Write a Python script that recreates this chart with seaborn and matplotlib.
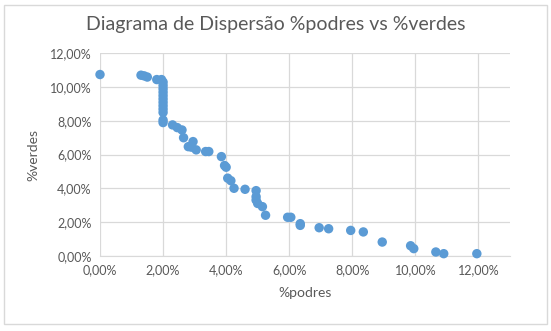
import numpy as np
import pandas as pd
import matplotlib.pyplot as plt
import matplotlib.ticker as mticker
import seaborn as sns

# valores em %
podres = [0.0, 1.3, 1.4, 1.5, 1.8, 1.95, 2.0, 2.0, 2.0, 2.0, 2.0, 2.0, 2.0,
          2.0, 2.0, 2.0, 2.0, 2.0, 2.3, 2.45, 2.6, 2.65, 2.8, 2.9, 2.95,
          3.05, 3.35, 3.45, 3.85, 3.95, 4.0, 4.05, 4.15, 4.25, 4.6, 4.95,
          4.95, 4.95, 5.0, 5.15, 5.25, 5.95, 6.05, 6.35, 6.35, 6.95, 7.25,
          7.95, 8.35, 8.95, 9.85, 9.95, 10.65, 10.9, 11.95]
verdes = [10.75, 10.71, 10.67, 10.6, 10.45, 10.45, 10.3, 10.1, 9.9, 9.7,
          9.5, 9.3, 9.1, 8.9, 8.7, 8.5, 8.05, 7.9, 7.76, 7.6, 7.46, 7.0,
          6.47, 6.44, 6.77, 6.28, 6.18, 6.18, 5.88, 5.35, 5.25, 4.6, 4.45,
          4.0, 3.94, 3.86, 3.5, 3.3, 3.1, 2.91, 2.4, 2.28, 2.28, 1.9, 1.8,
          1.66, 1.6, 1.5, 1.41, 0.81, 0.59, 0.42, 0.22, 0.12, 0.12]

df = pd.DataFrame({'podres': podres, 'verdes': verdes})

sns.set_style('whitegrid')
plt.rcParams['font.family'] = ['Lato', 'DejaVu Sans']

fig = plt.figure(figsize=(5.51, 3.31), dpi=100)
ax = fig.add_axes([0.1815, 0.2275, 0.744, 0.611])
sns.scatterplot(data=df, x='podres', y='verdes', color='#5B9BD5', s=46,
                edgecolor='none', ax=ax, zorder=3, clip_on=False)

ax.set_xlim(0, 13)
ax.set_ylim(0, 12)
ax.yaxis.set_major_locator(mticker.MultipleLocator(2))
fmt = mticker.FuncFormatter(lambda v, p: f'{v:.2f}%'.replace('.', ','))
ax.xaxis.set_major_formatter(fmt)
ax.yaxis.set_major_formatter(fmt)
ax.set_xticks([0, 2, 4, 6, 8, 10, 12])
ax.grid(True, color='#D9D9D9', linewidth=0.9)
for s in ax.spines.values():
    s.set_visible(False)
ax.spines['bottom'].set_visible(True)
ax.spines['bottom'].set_color('#D9D9D9')
ax.tick_params(colors='#595959', labelsize=9, length=0, pad=6)

ax.set_xlabel('%podres', color='#595959', fontsize=10, labelpad=8)
ax.set_ylabel('%verdes', color='#595959', fontsize=10, labelpad=8)
fig.text(0.5, 0.925, 'Diagrama de Dispersão %podres vs %verdes',
         ha='center', va='center', fontsize=14, color='#595959',
         fontweight='normal')

fig.patches.append(plt.Rectangle((0.008, 0.02), 0.984, 0.965,
                                 transform=fig.transFigure, fill=False,
                                 edgecolor='#D9D9D9', linewidth=1))

fig.savefig('out.png', dpi=100)
